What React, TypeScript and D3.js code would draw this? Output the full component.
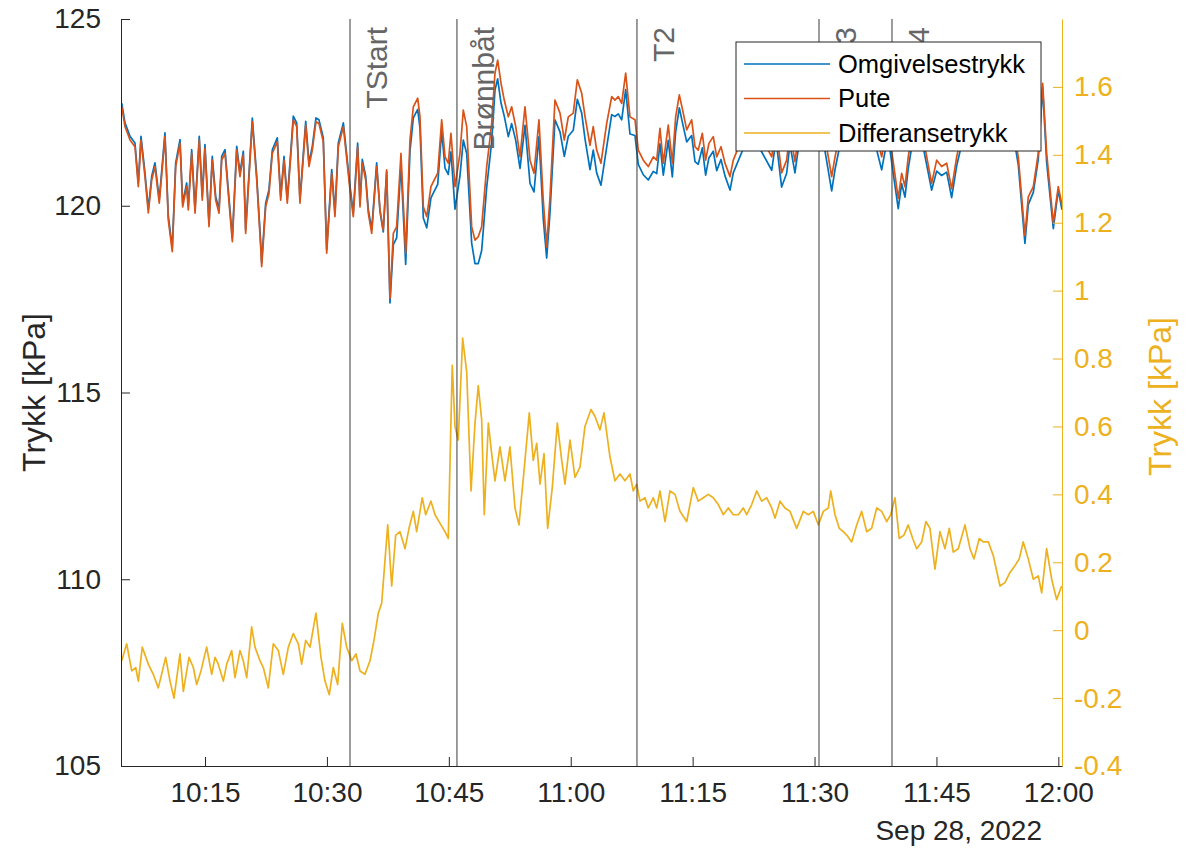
import { useEffect, useRef } from "react";
import * as d3 from "d3";

// Trykkmålinger 28. sep 2022, tid i minutter etter kl. 10:00
const puteMinutes = [
  4.75, 5.15, 5.77, 6.38, 6.79, 7.12, 7.61, 8.02, 8.44, 8.84, 9.37, 10.07, 10.48, 10.97, 11.39, 11.92,
  12.25, 12.74, 12.94, 13.36, 13.77, 14.29, 14.66, 14.99, 15.49, 15.89, 16.31, 16.72, 17.05, 17.46, 17.86,
  18.36, 18.9, 19.3, 19.71, 20.0, 20.82, 21.36, 21.85, 21.97, 22.46, 22.87, 23.28, 23.89, 24.31, 24.72,
  25.12, 25.54, 25.86, 26.28, 26.68, 27.39, 27.79, 28.2, 28.65, 29.02, 29.55, 29.97, 30.59, 30.99, 31.4,
  32.02, 32.84, 33.24, 33.78, 34.07, 34.35, 34.77, 35.09, 35.51, 36.12, 36.53, 36.93, 37.35, 37.76, 38.17,
  38.58, 39.11, 39.69, 40.22, 40.63, 41.17, 41.45, 41.86, 42.28, 42.8, 43.21, 43.63, 44.12, 44.53, 44.93,
  45.26, 45.76, 46.37, 46.78, 47.2, 47.81, 48.22, 48.62, 49.04, 49.66, 50.27, 50.68, 51.01, 51.42, 51.82,
  52.32, 52.73, 53.23, 53.76, 54.37, 54.99, 55.48, 56.09, 56.62, 57.04, 57.45, 58.06, 58.68, 59.21, 59.7,
  60.31, 60.81, 61.35, 61.75, 62.37, 62.77, 63.19, 63.72, 64.42, 65.04, 65.44, 65.85, 66.27, 66.76, 67.29,
  67.91, 68.31, 68.93, 69.54, 70.16, 70.58, 70.98, 71.39, 72.0, 72.5, 72.91, 73.36, 73.77, 74.27, 74.88,
  75.29, 75.69, 76.19, 76.6, 77.0, 77.54, 77.96, 78.49, 78.98, 79.6, 80.0, 81.44, 82.3, 83.3, 84.73, 85.26,
  85.95, 86.57, 86.97, 87.59, 88.21, 89.19, 90.05, 90.91, 92.11, 92.52, 93.38, 94.61, 95.84, 97.07, 98.26,
  99.03, 100.3, 100.72, 101.13, 101.53, 102.23, 103.22, 104.41, 105.03, 105.64, 106.26, 106.87, 107.49,
  108.26, 109.37, 110.6, 111.83, 113.06, 114.29, 115.07, 115.89, 116.3, 116.92, 117.53, 118.07, 118.56,
  119.38, 119.99, 120.45,
];

const puteKPa = [
  122.65, 122.12, 121.76, 121.58, 120.51, 121.76, 120.78, 119.81, 120.69, 121.05, 120.07, 121.85, 119.62,
  118.77, 121.05, 121.67, 119.97, 120.51, 119.89, 121.4, 119.8, 121.76, 120.15, 121.54, 119.44, 121.22,
  120.15, 119.8, 121.22, 121.4, 120.33, 119.04, 121.49, 120.78, 121.36, 119.26, 122.25, 120.69, 118.9,
  118.37, 119.97, 120.33, 121.4, 121.72, 120.15, 121.22, 120.07, 121.31, 122.3, 122.12, 120.07, 122.16,
  121.05, 121.49, 122.25, 122.2, 121.72, 118.73, 120.87, 119.71, 121.58, 122.12, 120.42, 119.71, 121.58,
  119.97, 121.14, 120.69, 119.8, 119.26, 121.05, 119.89, 119.35, 120.96, 117.52, 119.26, 119.44, 121.4,
  118.73, 121.76, 122.65, 122.88, 122.38, 119.97, 119.71, 120.51, 120.69, 120.87, 122.3, 121.31, 121.14,
  121.94, 120.51, 121.4, 122.56, 122.12, 119.44, 119.08, 119.17, 119.44, 121.05, 122.2, 123.55, 123.9,
  123.28, 122.83, 122.38, 122.65, 122.12, 121.31, 122.65, 121.22, 120.87, 122.3, 120.15, 118.9, 120.24,
  122.83, 122.48, 121.76, 122.38, 122.48, 123.37, 123.01, 122.4, 121.62, 122.12, 121.49, 121.14, 122.2,
  122.92, 122.83, 122.92, 122.74, 123.55, 122.38, 122.3, 121.49, 121.22, 121.05, 121.31, 121.22, 122.07,
  121.14, 122.16, 121.14, 122.38, 122.97, 122.56, 122.03, 122.3, 121.58, 121.49, 121.94, 121.22, 121.67,
  121.85, 121.31, 121.58, 121.14, 120.78, 121.22, 122.0, 122.3, 121.9, 121.31, 122.1, 120.88, 121.22, 122.0,
  121.18, 122.2, 122.4, 122.0, 122.3, 120.78, 121.31, 122.2, 122.4, 122.0, 122.3, 121.31, 122.2, 120.2,
  120.87, 120.51, 121.31, 122.2, 122.0, 120.6, 121.22, 121.05, 121.14, 120.45, 121.31, 122.1, 122.4, 122.0,
  122.3, 122.1, 122.3, 121.31, 119.2, 120.24, 120.51, 121.4, 123.28, 121.41, 119.54, 120.51, 120.02,
];

const omgivelseKPa = [
  122.75, 122.22, 121.86, 121.68, 120.61, 121.86, 120.88, 119.91, 120.79, 121.15, 120.17, 121.95, 119.72,
  118.87, 121.15, 121.77, 120.07, 120.61, 119.99, 121.5, 119.9, 121.86, 120.25, 121.64, 119.54, 121.32,
  120.25, 119.9, 121.32, 121.5, 120.43, 119.14, 121.59, 120.88, 121.46, 119.36, 122.35, 120.79, 119.0,
  118.47, 120.07, 120.43, 121.5, 121.82, 120.25, 121.32, 120.17, 121.41, 122.4, 122.22, 120.17, 122.26,
  121.15, 121.59, 122.35, 122.3, 121.82, 118.83, 120.97, 119.81, 121.68, 122.22, 120.52, 119.81, 121.68,
  120.07, 121.24, 120.79, 119.9, 119.36, 121.15, 119.84, 119.3, 120.91, 117.4, 118.96, 119.14, 121.1,
  118.43, 121.46, 122.35, 122.58, 122.08, 119.67, 119.41, 120.21, 120.39, 120.57, 122.0, 121.01, 120.84,
  121.44, 119.91, 120.8, 121.76, 121.4, 119.0, 118.45, 118.45, 118.8, 120.5, 121.7, 123.1, 123.4, 122.75,
  122.4, 121.85, 122.2, 121.75, 121.0, 122.15, 120.6, 120.37, 121.85, 119.65, 118.6, 119.82, 122.3, 121.98,
  121.32, 121.86, 122.02, 122.85, 122.48, 121.8, 120.97, 121.49, 120.88, 120.55, 121.56, 122.44, 122.39,
  122.46, 122.3, 123.11, 121.92, 121.88, 121.11, 120.83, 120.69, 120.92, 120.86, 121.66, 120.82, 121.75,
  120.77, 121.98, 122.62, 122.2, 121.71, 121.88, 121.18, 121.11, 121.55, 120.82, 121.28, 121.46, 120.94,
  121.24, 120.8, 120.42, 120.88, 121.64, 121.93, 121.52, 120.95, 121.77, 120.5, 120.87, 121.65, 120.88,
  121.85, 122.06, 121.65, 121.95, 120.4, 120.97, 121.9, 122.14, 121.65, 122.0, 120.96, 121.88, 119.92,
  120.59, 120.23, 121.0, 121.93, 121.74, 120.42, 120.93, 120.81, 120.9, 120.22, 121.07, 121.79, 122.19,
  121.73, 122.08, 121.96, 122.11, 121.1, 118.99, 120.03, 120.36, 121.24, 123.17, 121.17, 119.39, 120.42,
  119.89,
];

const diffMinutes = [
  4.75, 5.36, 5.98, 6.47, 6.79, 7.28, 8.02, 8.63, 9.25, 10.16, 10.69, 11.18, 11.92, 12.33, 13.03, 13.56,
  13.97, 14.5, 15.2, 15.82, 16.23, 16.63, 17.25, 17.67, 18.28, 18.69, 19.3, 19.71, 20.13, 20.74, 21.15,
  21.76, 22.17, 22.78, 23.4, 24.02, 24.63, 25.25, 25.86, 26.48, 26.89, 27.39, 27.92, 28.65, 29.27, 29.76,
  30.29, 30.78, 31.32, 31.89, 32.43, 33.05, 33.58, 34.07, 34.68, 35.3, 35.79, 36.32, 36.74, 37.48, 37.97,
  38.46, 38.99, 39.61, 40.1, 40.63, 41.04, 41.73, 42.15, 42.8, 43.3, 44.03, 44.53, 44.93, 45.42, 45.76,
  46.16, 46.7, 47.2, 47.73, 48.22, 48.62, 49.04, 49.36, 49.86, 50.27, 50.68, 51.29, 51.91, 52.52, 53.14,
  53.63, 54.37, 54.9, 55.39, 55.81, 56.22, 56.71, 57.16, 57.73, 58.35, 58.89, 59.29, 59.91, 60.52, 61.14,
  61.75, 62.49, 62.98, 63.6, 64.09, 64.83, 65.44, 66.06, 66.67, 67.29, 67.7, 68.11, 68.52, 69.14, 69.54,
  70.16, 70.58, 70.98, 71.6, 72.21, 72.83, 73.44, 74.27, 75.08, 75.69, 76.31, 76.93, 77.54, 78.16, 78.77,
  79.39, 80.0, 80.62, 81.23, 81.65, 82.27, 82.88, 83.5, 84.11, 84.73, 85.14, 85.75, 86.36, 86.98, 87.8,
  88.62, 89.23, 89.85, 90.47, 91.08, 91.7, 91.99, 92.52, 93.04, 93.54, 93.96, 94.57, 95.19, 95.8, 96.42,
  97.03, 97.65, 98.26, 98.88, 99.37, 99.9, 100.42, 101.0, 101.53, 102.08, 102.57, 103.18, 103.71, 104.2,
  104.82, 105.43, 106.05, 106.58, 107.07, 107.69, 108.51, 109.13, 109.62, 110.27, 110.76, 111.38, 111.99,
  112.82, 113.43, 114.05, 114.66, 115.19, 115.68, 116.3, 116.92, 117.53, 117.95, 118.56, 119.18, 119.79,
  120.41,
];

const diffKPa = [
  -0.09, -0.04, -0.12, -0.11, -0.15, -0.05, -0.1, -0.13, -0.17, -0.08, -0.15, -0.2, -0.07, -0.18, -0.08,
  -0.11, -0.16, -0.12, -0.05, -0.13, -0.08, -0.1, -0.15, -0.1, -0.06, -0.14, -0.06, -0.09, -0.14, 0.01,
  -0.05, -0.09, -0.11, -0.17, -0.04, -0.06, -0.13, -0.05, -0.01, -0.04, -0.1, -0.03, -0.05, 0.05, -0.08,
  -0.15, -0.19, -0.11, -0.16, 0.02, -0.05, -0.09, -0.07, -0.12, -0.13, -0.09, -0.03, 0.05, 0.08, 0.31,
  0.13, 0.28, 0.29, 0.24, 0.3, 0.35, 0.29, 0.39, 0.34, 0.38, 0.34, 0.31, 0.29, 0.27, 0.78, 0.6, 0.56,
  0.86, 0.76, 0.41, 0.61, 0.72, 0.62, 0.34, 0.61, 0.52, 0.44, 0.54, 0.44, 0.54, 0.36, 0.31, 0.5, 0.64,
  0.5, 0.55, 0.43, 0.52, 0.3, 0.42, 0.61, 0.5, 0.43, 0.56, 0.45, 0.48, 0.6, 0.65, 0.63, 0.59, 0.64, 0.51,
  0.44, 0.46, 0.44, 0.46, 0.41, 0.43, 0.38, 0.39, 0.36, 0.39, 0.36, 0.41, 0.32, 0.41, 0.4, 0.35, 0.32,
  0.42, 0.38, 0.39, 0.4, 0.39, 0.37, 0.34, 0.36, 0.34, 0.34, 0.36, 0.34, 0.37, 0.41, 0.38, 0.39, 0.36,
  0.33, 0.38, 0.36, 0.35, 0.3, 0.35, 0.34, 0.35, 0.31, 0.35, 0.36, 0.41, 0.34, 0.3, 0.29, 0.28, 0.26,
  0.31, 0.35, 0.29, 0.3, 0.36, 0.35, 0.32, 0.34, 0.39, 0.27, 0.28, 0.31, 0.27, 0.24, 0.26, 0.32, 0.3,
  0.18, 0.29, 0.24, 0.3, 0.23, 0.24, 0.31, 0.24, 0.21, 0.27, 0.26, 0.26, 0.22, 0.13, 0.14, 0.17, 0.19,
  0.21, 0.26, 0.21, 0.15, 0.16, 0.11, 0.24, 0.15, 0.09, 0.13,
];

const eventNames = ["TStart", "Brønnbåt", "T2", "T3", "T4"];
const eventMinutes = [32.84, 46.0, 68.15, 90.55, 99.53];

const leftTicks = [105, 110, 115, 120, 125];
const rightTicks = [-0.4, -0.2, 0, 0.2, 0.4, 0.6, 0.8, 1, 1.2, 1.4, 1.6];
const timeTicks = ["10:15", "10:30", "10:45", "11:00", "11:15", "11:30", "11:45", "12:00"];
const legendNames = ["Omgivelsestrykk", "Pute", "Differansetrykk"];
const seriesColors = ["#0072BD", "#D95319", "#EDB120"];

const W = 1189;
const H = 851;
const FONT = "'Liberation Sans', Arial, sans-serif";
const AX = "#262626";

const base = new Date(2022, 8, 28, 10, 0, 0).getTime();
const toDate = (m: number) => new Date(base + m * 60000);
const clock = (s: string) => {
  const [h, m] = s.split(":").map(Number);
  return toDate((h - 10) * 60 + m);
};

export default function App() {
  const svgRef = useRef<SVGSVGElement>(null);

  useEffect(() => {
    if (!svgRef.current) return;
    const svg = d3.select(svgRef.current);
    svg.selectAll("*").remove();

    const left = 121;
    const right = 1062;
    const top = 19;
    const bottom = 766;

    const x = d3.scaleTime().domain([toDate(4.66), toDate(120.45)]).range([left, right]);
    const yL = d3.scaleLinear().domain([105, 125]).range([bottom, top]);
    const yR = d3.scaleLinear().domain([-0.4, 1.8]).range([bottom, top]);

    svg.append("rect").attr("width", W).attr("height", H).attr("fill", "#fff");

    svg.append("defs")
      .append("clipPath")
      .attr("id", "plot-clip")
      .append("rect")
      .attr("x", left)
      .attr("y", top)
      .attr("width", right - left)
      .attr("height", bottom - top);

    const plot = svg.append("g").attr("clip-path", "url(#plot-clip)");

    // Trykkserier
    const lineL = d3
      .line<[number, number]>()
      .x((d) => x(toDate(d[0])))
      .y((d) => yL(d[1]));
    const lineR = d3
      .line<[number, number]>()
      .x((d) => x(toDate(d[0])))
      .y((d) => yR(d[1]));

    const omg = puteMinutes.map((t, i) => [t, omgivelseKPa[i]] as [number, number]);
    const pute = puteMinutes.map((t, i) => [t, puteKPa[i]] as [number, number]);
    const diff = diffMinutes.map((t, i) => [t, diffKPa[i]] as [number, number]);

    plot.append("path").datum(omg).attr("d", lineL).attr("fill", "none")
      .attr("stroke", seriesColors[0]).attr("stroke-width", 1.7).attr("stroke-linejoin", "round");
    plot.append("path").datum(pute).attr("d", lineL).attr("fill", "none")
      .attr("stroke", seriesColors[1]).attr("stroke-width", 1.7).attr("stroke-linejoin", "round");
    plot.append("path").datum(diff).attr("d", lineR).attr("fill", "none")
      .attr("stroke", seriesColors[2]).attr("stroke-width", 1.7).attr("stroke-linejoin", "round");

    // Hendelseslinjer
    eventNames.forEach((name, i) => {
      const ex = x(toDate(eventMinutes[i]));
      svg.append("line")
        .attr("x1", ex).attr("x2", ex).attr("y1", top).attr("y2", bottom)
        .attr("stroke", "#3a3a3a").attr("stroke-width", 1);
      svg.append("text")
        .attr("transform", `translate(${ex + 37},${top + 8}) rotate(-90)`)
        .attr("text-anchor", "end")
        .attr("font-family", FONT)
        .attr("font-size", 30)
        .attr("fill", "#666")
        .text(name);
    });

    // Venstre akse
    const gL = svg.append("g").attr("transform", `translate(${left},0)`)
      .call(d3.axisLeft(yL).tickValues(leftTicks).tickSizeInner(-9).tickSizeOuter(0).tickPadding(20));
    gL.select(".domain").attr("stroke", AX);
    gL.selectAll(".tick line").attr("stroke", AX);
    gL.selectAll("text").attr("fill", AX).attr("font-family", FONT).attr("font-size", 28);

    // Høyre akse
    const gR = svg.append("g").attr("transform", `translate(${right},0)`)
      .call(
        d3.axisRight(yR).tickValues(rightTicks).tickSizeInner(-9).tickSizeOuter(0).tickPadding(12)
          .tickFormat((v) => String(+(+v).toFixed(1)))
      );
    gR.select(".domain").attr("stroke", seriesColors[2]);
    gR.selectAll(".tick line").attr("stroke", seriesColors[2]);
    gR.selectAll("text").attr("fill", seriesColors[2]).attr("font-family", FONT).attr("font-size", 28);

    // Tidsakse
    const gB = svg.append("g").attr("transform", `translate(0,${bottom})`)
      .call(
        d3.axisBottom(x).tickValues(timeTicks.map(clock)).tickSizeInner(-9).tickSizeOuter(0).tickPadding(16)
          .tickFormat((d) => d3.timeFormat("%H:%M")(d as Date))
      );
    gB.select(".domain").attr("stroke", AX);
    gB.selectAll(".tick line").attr("stroke", AX);
    gB.selectAll("text").attr("fill", AX).attr("font-family", FONT).attr("font-size", 28);

    svg.append("text")
      .attr("x", 1042).attr("y", 840)
      .attr("text-anchor", "end")
      .attr("font-family", FONT).attr("font-size", 28).attr("fill", AX)
      .text("Sep 28, 2022");

    // Aksetitler
    svg.append("text")
      .attr("transform", `translate(45,${(top + bottom) / 2}) rotate(-90)`)
      .attr("text-anchor", "middle")
      .attr("font-family", FONT).attr("font-size", 32).attr("fill", AX)
      .text("Trykk [kPa]");
    svg.append("text")
      .attr("transform", `translate(1171,${(top + bottom) / 2 + 4}) rotate(-90)`)
      .attr("text-anchor", "middle")
      .attr("font-family", FONT).attr("font-size", 32).attr("fill", seriesColors[2])
      .text("Trykk [kPa]");

    // Tegnforklaring
    const lg = svg.append("g").attr("transform", "translate(736,42)");
    lg.append("rect").attr("width", 305).attr("height", 109)
      .attr("fill", "#fff").attr("stroke", AX).attr("stroke-width", 1);
    legendNames.forEach((name, i) => {
      const ly = 22 + i * 34.5;
      lg.append("line").attr("x1", 8).attr("x2", 94).attr("y1", ly).attr("y2", ly)
        .attr("stroke", seriesColors[i]).attr("stroke-width", 1.7);
      lg.append("text").attr("x", 102).attr("y", ly).attr("dy", "0.35em")
        .attr("font-family", FONT).attr("font-size", 25.5).attr("fill", "#000")
        .text(name);
    });
  }, []);

  return (
    <svg
      ref={svgRef}
      width={W}
      height={H}
      style={{ position: "absolute", left: 0, top: 0, display: "block" }}
    />
  );
}
